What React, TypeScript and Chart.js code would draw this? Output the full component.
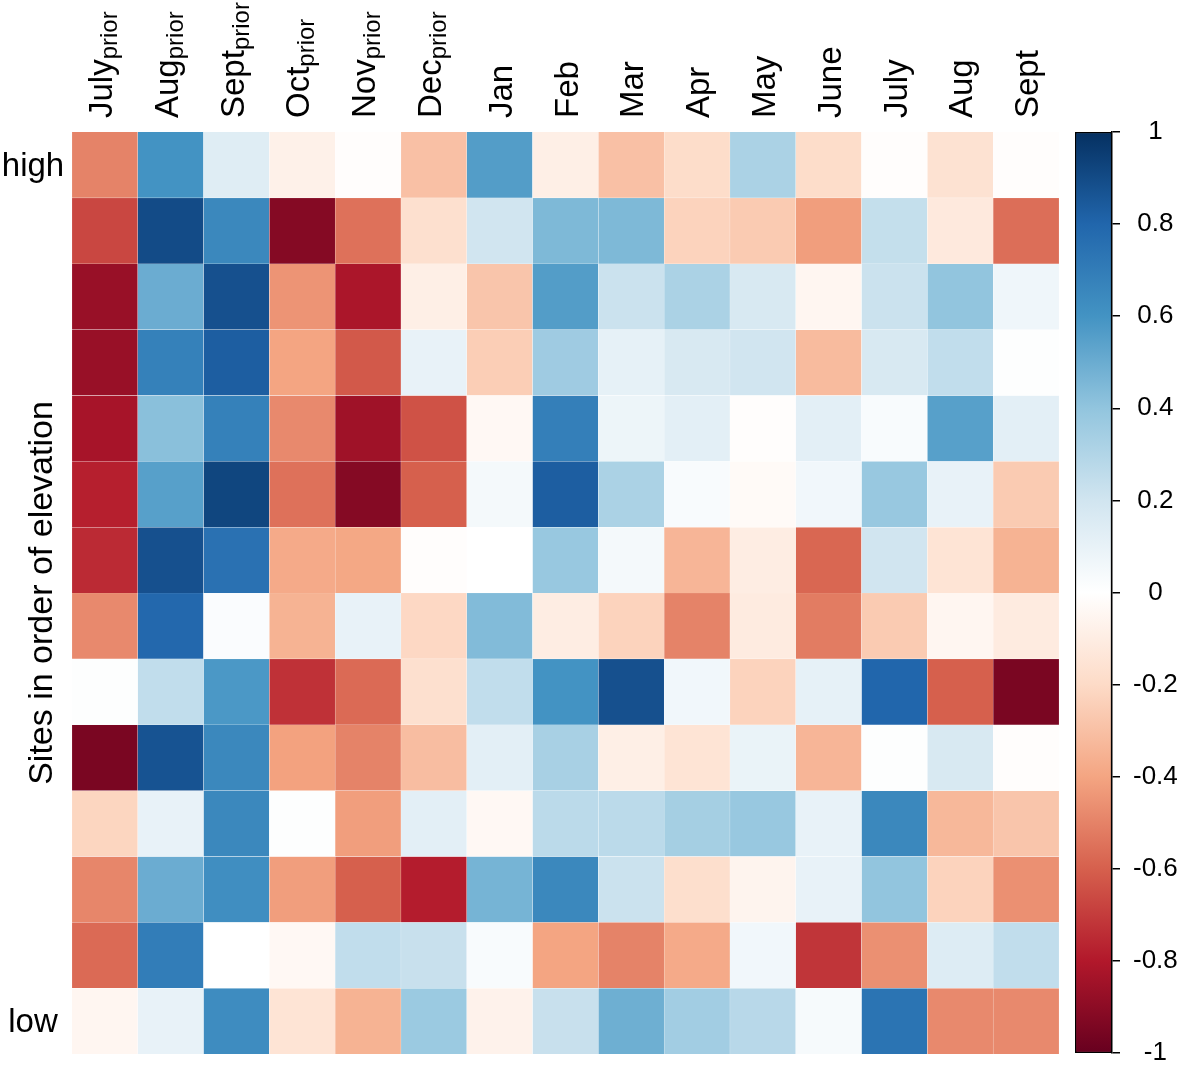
import React, { useEffect, useRef } from "react";
import { Chart, registerables } from "chart.js";

Chart.register(...registerables);

// Column categories (month names + optional subscript)
const monthNames = ["July", "Aug", "Sept", "Oct", "Nov", "Dec", "Jan", "Feb", "Mar", "Apr", "May", "June", "July", "Aug", "Sept"];
const monthSubscripts = ["prior", "prior", "prior", "prior", "prior", "prior", "", "", "", "", "", "", "", "", ""];

// Row labels (sites ordered by elevation, high -> low)
const siteLabels = ["high", "", "", "", "", "", "", "", "", "", "", "", "", "low"];
const yAxisTitle = "Sites in order of elevation";

// Correlation values per site (row), columns follow monthNames
const site01 = [-0.50, 0.60, 0.14, -0.08, -0.01, -0.30, 0.56, -0.09, -0.30, -0.19, 0.32, -0.19, -0.01, -0.16, -0.01];
const site02 = [-0.67, 0.90, 0.65, -0.92, -0.55, -0.17, 0.20, 0.45, 0.45, -0.23, -0.26, -0.42, 0.24, -0.12, -0.56];
const site03 = [-0.87, 0.50, 0.88, -0.45, -0.82, -0.09, -0.28, 0.56, 0.22, 0.32, 0.17, -0.05, 0.22, 0.40, 0.07];
const site04 = [-0.87, 0.68, 0.83, -0.40, -0.62, 0.10, -0.25, 0.36, 0.11, 0.17, 0.20, -0.32, 0.17, 0.25, 0.01];
const site05 = [-0.83, 0.42, 0.68, -0.48, -0.85, -0.64, -0.04, 0.69, 0.08, 0.12, -0.01, 0.12, 0.03, 0.55, 0.12];
const site06 = [-0.78, 0.55, 0.92, -0.55, -0.92, -0.60, 0.05, 0.83, 0.32, 0.03, -0.03, 0.06, 0.38, 0.10, -0.26];
const site07 = [-0.75, 0.88, 0.75, -0.38, -0.39, -0.01, 0.00, 0.38, 0.05, -0.34, -0.10, -0.58, 0.20, -0.15, -0.35];
const site08 = [-0.48, 0.79, 0.02, -0.35, 0.10, -0.21, 0.44, -0.10, -0.23, -0.50, -0.11, -0.52, -0.26, -0.05, -0.11];
const site09 = [0.01, 0.25, 0.58, -0.73, -0.57, -0.17, 0.25, 0.60, 0.88, 0.06, -0.23, 0.11, 0.80, -0.60, -0.95];
const site10 = [-0.95, 0.87, 0.65, -0.41, -0.50, -0.31, 0.12, 0.33, -0.09, -0.15, 0.09, -0.34, 0.01, 0.17, -0.01];
const site11 = [-0.22, 0.10, 0.65, 0.01, -0.42, 0.12, -0.04, 0.27, 0.27, 0.34, 0.38, 0.10, 0.65, -0.33, -0.28];
const site12 = [-0.49, 0.50, 0.62, -0.42, -0.60, -0.79, 0.47, 0.65, 0.22, -0.18, -0.06, 0.10, 0.40, -0.23, -0.46];
const site13 = [-0.57, 0.70, 0.00, -0.04, 0.25, 0.23, 0.03, -0.40, -0.50, -0.38, 0.06, -0.72, -0.46, 0.15, 0.25];
const site14 = [-0.05, 0.10, 0.63, -0.15, -0.35, 0.37, -0.07, 0.23, 0.49, 0.35, 0.28, 0.04, 0.74, -0.48, -0.48];

const siteRows = [site01, site02, site03, site04, site05, site06, site07, site08, site09, site10, site11, site12, site13, site14];

// Colour bar ticks
const colorbarTicks = [1, 0.8, 0.6, 0.4, 0.2, 0, -0.2, -0.4, -0.6, -0.8, -1];

// RdBu palette (from -1 to 1)
const palette = ["#67001F", "#B2182B", "#D6604D", "#F4A582", "#FDDBC7", "#FFFFFF", "#D1E5F0", "#92C5DE", "#4393C3", "#2166AC", "#053061"];

const FONT = '"Liberation Sans", Arial, Helvetica, sans-serif';

function hexToRgb(h: string) {
  const n = parseInt(h.slice(1), 16);
  return [(n >> 16) & 255, (n >> 8) & 255, n & 255];
}

function corrColor(v: number) {
  const t = (Math.max(-1, Math.min(1, v)) + 1) / 2 * (palette.length - 1);
  const i = Math.min(palette.length - 2, Math.floor(t));
  const f = t - i;
  const a = hexToRgb(palette[i]);
  const b = hexToRgb(palette[i + 1]);
  const c = a.map((x, k) => Math.round(x + (b[k] - x) * f));
  return `rgb(${c[0]},${c[1]},${c[2]})`;
}

const labelPlugin = {
  id: "heatLabels",
  afterDraw(chart: any) {
    const ctx = chart.ctx;
    const xs = chart.scales.x;
    const ys = chart.scales.y;
    ctx.save();
    ctx.fillStyle = "#000";
    ctx.textBaseline = "alphabetic";
    // column labels (rotated, with subscripts)
    monthNames.forEach((name, i) => {
      const cx = xs.getPixelForValue(i);
      const sub = monthSubscripts[i];
      ctx.save();
      ctx.translate(cx + (sub ? 7 : 12), chart.chartArea.top - 14);
      ctx.rotate(-Math.PI / 2);
      ctx.textAlign = "left";
      ctx.font = `33px ${FONT}`;
      ctx.fillText(name, 0, 0);
      if (sub) {
        const w = ctx.measureText(name).width;
        ctx.font = `24px ${FONT}`;
        ctx.fillText(sub, w, 5);
      }
      ctx.restore();
    });
    // row labels
    ctx.textAlign = "center";
    ctx.font = `33px ${FONT}`;
    siteLabels.forEach((lab, r) => {
      if (!lab) return;
      const cy = ys.getPixelForValue(r + 0.5);
      ctx.fillText(lab, 33, cy + 11);
    });
    // y title
    ctx.save();
    const midY = (chart.chartArea.top + chart.chartArea.bottom) / 2;
    ctx.translate(52, midY);
    ctx.rotate(-Math.PI / 2);
    ctx.textAlign = "center";
    ctx.font = `34px ${FONT}`;
    ctx.fillText(yAxisTitle, 0, 0);
    ctx.restore();
    ctx.restore();
  },
};

export default function App() {
  const heatRef = useRef<HTMLCanvasElement | null>(null);
  const barRef = useRef<HTMLCanvasElement | null>(null);

  useEffect(() => {
    if (!heatRef.current || !barRef.current) return;

    const heat = new Chart(heatRef.current, {
      type: "bar",
      data: {
        labels: monthNames.map((m, i) => (monthSubscripts[i] ? `${m} ${monthSubscripts[i]}` : m)),
        datasets: siteRows.map((row, r) => ({
          label: siteLabels[r] || `site ${r + 1}`,
          data: row.map(() => [r, r + 1]),
          backgroundColor: row.map(corrColor),
          borderColor: "rgba(255,255,255,0.9)",
          borderWidth: 0.4,
          borderSkipped: false,
          grouped: false,
          barPercentage: 1,
          categoryPercentage: 1,
        })) as any,
      },
      options: {
        responsive: false,
        animation: false,
        layout: { padding: { left: 0, right: 7, top: 0, bottom: 12 } },
        plugins: { legend: { display: false }, tooltip: { enabled: false } },
        scales: {
          x: {
            position: "top",
            grid: { display: false },
            border: { display: false },
            ticks: { display: false },
            afterFit: (s: any) => {
              s.height = 132;
            },
          },
          y: {
            type: "linear",
            min: 0,
            max: siteRows.length,
            reverse: true,
            grid: { display: false },
            border: { display: false },
            ticks: { display: false },
            afterFit: (s: any) => {
              s.width = 72;
            },
          },
        },
      } as any,
      plugins: [labelPlugin],
    });

    const bar = new Chart(barRef.current, {
      type: "bar",
      data: {
        labels: ["scale"],
        datasets: [
          {
            data: [[-1, 1]] as any,
            backgroundColor: (c: any) => {
              const ca = c.chart.chartArea;
              if (!ca) return "transparent";
              const g = c.chart.ctx.createLinearGradient(0, ca.bottom, 0, ca.top);
              palette.forEach((col, i) => g.addColorStop(i / (palette.length - 1), col));
              return g;
            },
            borderColor: "#000",
            borderWidth: 1.5,
            borderSkipped: false,
            barPercentage: 1,
            categoryPercentage: 1,
          },
        ],
      },
      options: {
        responsive: false,
        animation: false,
        layout: { padding: { left: 9, top: 132, bottom: 1100 - 1053, right: 0 } },
        plugins: { legend: { display: false }, tooltip: { enabled: false } },
        scales: {
          x: { display: false },
          y: {
            position: "right",
            min: -1,
            max: 1,
            afterBuildTicks: (s: any) => {
              s.ticks = colorbarTicks.map((v) => ({ value: v }));
            },
            ticks: {
              callback: (v: any) => String(Math.round(Number(v) * 10) / 10),
              font: { size: 26, family: FONT, lineHeight: 1 },
              color: "#000",
              crossAlign: "center",
              padding: 13,
            },
            grid: { display: true, drawOnChartArea: false, drawTicks: true, tickLength: 8, color: "#000", lineWidth: 1.5 },
            border: { display: true, color: "#000", width: 1.5 },
            afterFit: (s: any) => {
              s.width = 69;
            },
          },
        },
      } as any,
    });

    return () => {
      heat.destroy();
      bar.destroy();
    };
  }, []);

  return (
    <div style={{ position: "absolute", left: 0, top: 0, width: 1181, height: 1066, background: "#fff", overflow: "hidden" }}>
      <canvas ref={heatRef} width={1066} height={1066} style={{ position: "absolute", left: 0, top: 0 }} />
      <canvas ref={barRef} width={115} height={1100} style={{ position: "absolute", left: 1066, top: 0 }} />
    </div>
  );
}
